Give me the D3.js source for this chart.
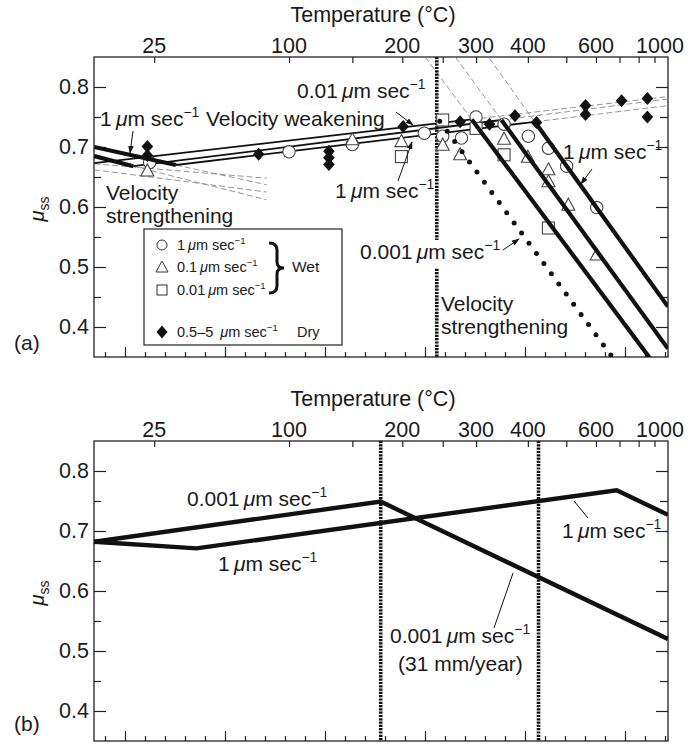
<!DOCTYPE html>
<html><head><meta charset="utf-8">
<script src="https://cdn.jsdelivr.net/npm/d3@7"></script>
<style>
body{margin:0;background:#fff}
text{font-family:"Liberation Sans",Arial,Helvetica,sans-serif;fill:#1a1a1a}
</style>
</head><body>
<svg id="c" width="700" height="746"></svg>
<script>
// ---------- axis ticks / labels ----------
const tempTicks  = [25,100,150,200,250,300,400,500,600,700,800,900];
const tempLabels = [25,100,200,300,400,600,1000];
const muMajor = [0.4,0.5,0.6,0.7,0.8];
const muMinor = [0.45,0.55,0.65,0.75];
const invMajor = [3.5,3.0,2.5,2.0,1.5,1.0];
const invMinor = [3.6,3.4,3.3,3.2,3.1,2.9,2.8,2.7,2.6,2.4,2.3,2.2,2.1,1.9,1.8,1.7,1.6,1.4,1.3,1.2,1.1,0.9,0.8];

// ---------- panel (a) data: [T (°C), mu_ss] ----------
const wet1   = [[23,0.674],[100,0.692],[150,0.704],[226,0.723],[250,0.718],[277,0.715],[300,0.750],[350,0.738],[401,0.718],[450,0.698],[501,0.668],[603,0.599]];
const wet01  = [[22,0.660],[150,0.712],[199,0.709],[250,0.703],[275,0.687],[350,0.713],[400,0.683],[450,0.662],[450,0.642],[506,0.603],[603,0.520]];
const wet001 = [[199,0.684],[250,0.745],[300,0.731],[350,0.687],[450,0.565]];
const dry    = [[22,0.701],[22,0.686],[80,0.688],[130,0.693],[130,0.682],[130,0.671],[201,0.734],[275,0.742],[323,0.738],[372,0.752],[420,0.741],[562,0.769],[562,0.754],[710,0.777],[853,0.781],[853,0.750]];

// model lines, panel (a)
const strong1  = [[0.5,0.700],[35,0.670]];
const strong01 = [[0.5,0.685],[16,0.668]];
const weak1    = [[35,0.670],[416,0.742]];
const weak01   = [[16,0.668],[345,0.745]];
const weak001  = [[0.5,0.673],[293,0.746]];
const hot1     = [[416,0.742],[1000,0.434]];
const hot01    = [[345,0.745],[1000,0.364]];
const hot001   = [[293,0.746],[1000,0.308]];
const hot0001  = [[246,0.743],[661,0.353]];
// extrapolated (thin dashed) lines
const extStrong = [
  [[35,0.670],[85,0.637]],
  [[16,0.668],[85,0.612]],
  [[0.5,0.672],[85,0.648]],
  [[0.5,0.662],[85,0.625]]
];
const extHot = [
  [[293,0.746],[227,0.85]],
  [[345,0.745],[268,0.85]],
  [[416,0.742],[321,0.85]]
];
const extWeak = [
  [[293,0.746],[1000,0.784]],
  [[345,0.745],[1000,0.780]],
  [[416,0.742],[1000,0.769]]
];
const vlineA = 242;

// ---------- panel (b) data ----------
const b0001 = [[0.5,0.682],[177,0.749],[1000,0.520]];
const b1    = [[0.5,0.682],[45,0.671],[687,0.768],[1000,0.727]];
const vlinesB = [177,425];

// ---------- setup ----------
const svg = d3.select("#c");
const L = 94, R = 668;
const inv = T => 1000/(T+273.15);
const x = d3.scaleLinear().domain([3.655,0.785]).range([L,R]);
const xT = T => x(inv(T));
const FONT = 21;

const defs = svg.append("defs");
defs.append("marker").attr("id","arr").attr("viewBox","0 0 10 10").attr("refX",9).attr("refY",5)
  .attr("markerWidth",8).attr("markerHeight",8).attr("markerUnits","userSpaceOnUse").attr("orient","auto")
  .append("path").attr("d","M0,1.5 L10,5 L0,8.5 Z").attr("fill","#111");

function umsec(g, xx, yy, prefix, size, anchor){
  const t = g.append("text").attr("x",xx).attr("y",yy).attr("font-size",size).attr("text-anchor",anchor||"start");
  t.append("tspan").text(prefix + "\u2009");
  t.append("tspan").attr("font-style","italic").text("\u03bc");
  t.append("tspan").text("m sec");
  t.append("tspan").attr("font-size",size*0.66).attr("dy",-size*0.42).text("\u22121");
  return t;
}
function label(g, xx, yy, s, size){
  return g.append("text").attr("x",xx).attr("y",yy).attr("font-size",size||FONT).text(s);
}

function panel(top, id){
  const bot = top+300;
  const y = d3.scaleLinear().domain([0.35,0.85]).range([bot,top]);
  const g = svg.append("g");
  defs.append("clipPath").attr("id",id).append("rect").attr("x",L).attr("y",top).attr("width",R-L).attr("height",300);
  const ax = g.append("g").attr("class","axes");
  const st = sel => { sel.selectAll("line,path").attr("stroke","#222").attr("stroke-width",1.2); sel.select(".domain").remove(); };
  ax.append("g").attr("transform",`translate(${L},0)`)
    .call(d3.axisLeft(y).tickValues(muMajor).tickSize(-12).tickPadding(5).tickFormat(d3.format(".1f"))).call(st)
    .selectAll("text").attr("font-size",FONT+0.5).attr("font-family",'"Liberation Sans",Arial,sans-serif').attr("fill","#1a1a1a");
  ax.append("g").attr("transform",`translate(${L},0)`).call(d3.axisLeft(y).tickValues(muMinor).tickSize(-7).tickFormat("")).call(st);
  ax.append("g").attr("transform",`translate(${R},0)`).call(d3.axisRight(y).tickValues(muMajor).tickSize(-12).tickFormat("")).call(st);
  ax.append("g").attr("transform",`translate(${R},0)`).call(d3.axisRight(y).tickValues(muMinor).tickSize(-8).tickFormat("")).call(st);
  ax.append("g").attr("transform",`translate(0,${bot})`).call(d3.axisBottom(x).tickValues(invMajor).tickSize(-10).tickFormat("")).call(st);
  ax.append("g").attr("transform",`translate(0,${bot})`).call(d3.axisBottom(x).tickValues(invMinor).tickSize(-5).tickFormat("")).call(st);
  ax.append("g").attr("transform",`translate(0,${top})`).call(d3.axisTop(x).tickValues(tempTicks.map(inv)).tickSize(-6).tickFormat("")).call(st);
  ax.append("rect").attr("x",L).attr("y",top).attr("width",R-L).attr("height",300).attr("fill","none").attr("stroke","#222").attr("stroke-width",1.3);
  tempLabels.forEach(T => {
    g.append("text").attr("x",Math.min(xT(T),660)).attr("y",top-4).attr("text-anchor","middle").attr("font-size",FONT+0.5).text(T);
  });
  g.append("text").attr("x",373).attr("y",top-35).attr("text-anchor","middle").attr("font-size",FONT+0.5).text("Temperature (\u00b0C)");
  const yl = g.append("text").attr("transform",`translate(44,${top+152}) rotate(-90)`).attr("text-anchor","middle").attr("font-size",20);
  yl.append("tspan").attr("font-style","italic").text("\u03bc");
  yl.append("tspan").attr("font-size",14).attr("dy",5).text("ss");
  const plot = g.append("g").attr("clip-path",`url(#${id})`);
  const line = d3.line().x(d=>xT(d[0])).y(d=>y(d[1]));
  return {g, plot, y, line, top, bot};
}

// ================= PANEL (a) =================
const A = panel(57,"clipA");
{
  const {g, plot, y, line} = A;
  const dashed = arr => arr.forEach(d => plot.append("path").attr("d",line(d)).attr("fill","none")
      .attr("stroke","#8a8a8a").attr("stroke-width",0.9).attr("stroke-dasharray","6,3"));
  dashed(extStrong); dashed(extHot); dashed(extWeak);

  // vertical dotted line (split around label)
  [[0.85,0.545],[0.497,0.35]].forEach(r => plot.append("line").attr("x1",xT(vlineA)).attr("x2",xT(vlineA))
      .attr("y1",y(r[0])).attr("y2",y(r[1])).attr("stroke","#111").attr("stroke-width",3.6).attr("stroke-dasharray","2.2,1.1"));

  [weak1,weak01,weak001].forEach(d => plot.append("path").attr("d",line(d)).attr("fill","none").attr("stroke","#111").attr("stroke-width",1.8));

  // markers
  const mk = plot.append("g");
  wet1.forEach(d => mk.append("circle").attr("cx",xT(d[0])).attr("cy",y(d[1])).attr("r",6.2)
      .attr("fill","#fff").attr("stroke","#444").attr("stroke-width",1.1));
  wet01.forEach(d => { const cx=xT(d[0]), cy=y(d[1]);
      mk.append("path").attr("d",`M${cx},${cy-7} L${cx+6.5},${cy+5} L${cx-6.5},${cy+5} Z`)
      .attr("fill","#fff").attr("stroke","#444").attr("stroke-width",1.1); });
  wet001.forEach(d => { const cx=xT(d[0]), cy=y(d[1]);
      mk.append("rect").attr("x",cx-6).attr("y",cy-6).attr("width",12).attr("height",12)
      .attr("fill","#fff").attr("stroke","#444").attr("stroke-width",1.1); });
  dry.forEach(d => { const cx=xT(d[0]), cy=y(d[1]);
      mk.append("path").attr("d",`M${cx},${cy-6.5} L${cx+5.8},${cy} L${cx},${cy+6.5} L${cx-5.8},${cy} Z`).attr("fill","#111"); });

  [strong1,strong01,hot1,hot01,hot001].forEach(d => plot.append("path").attr("d",line(d)).attr("fill","none")
      .attr("stroke","#111").attr("stroke-width",4.2));
  plot.append("path").attr("d",line(hot0001)).attr("fill","none").attr("stroke","#111").attr("stroke-width",5)
      .attr("stroke-linecap","round").attr("stroke-dasharray","0,12.6");

  // annotations
  umsec(g,100,126,"1",FONT);
  label(g,206,126,"Velocity weakening");
  umsec(g,297,98,"0.01",FONT);
  umsec(g,335,198,"1",FONT);
  label(g,106,200,"Velocity"); label(g,106,223,"strengthening");
  umsec(g,360,259,"0.001",FONT);
  label(g,441,311,"Velocity"); label(g,441,334,"strengthening");
  umsec(g,563,159,"1",FONT);
  const arrow = (x1,y1,x2,y2) => g.append("line").attr("x1",x1).attr("y1",y1).attr("x2",x2).attr("y2",y2)
      .attr("stroke","#111").attr("stroke-width",1).attr("marker-end","url(#arr)");
  arrow(133,131,130,153);
  arrow(396,112,413,125);
  arrow(398,181,412,142);
  arrow(503,250,519,239);
  arrow(592,169,581,184);

  // legend
  const lg = g.append("g");
  lg.append("rect").attr("x",144).attr("y",229).attr("width",198).attr("height",116).attr("fill","#fff").attr("stroke","#222").attr("stroke-width",1.2);
  const LF = 14.5;
  lg.append("circle").attr("cx",162).attr("cy",245).attr("r",5).attr("fill","#fff").attr("stroke","#333").attr("stroke-width",1);
  umsec(lg,177,250,"1",LF);
  lg.append("path").attr("d","M162,261 L168,272 L156,272 Z").attr("fill","#fff").attr("stroke","#333").attr("stroke-width",1);
  umsec(lg,177,272,"0.1",LF);
  lg.append("rect").attr("x",157).attr("y",285).attr("width",10).attr("height",10).attr("fill","#fff").attr("stroke","#333").attr("stroke-width",1);
  umsec(lg,177,295,"0.01",LF);
  lg.append("path").attr("d","M162,325.5 L167.5,332 L162,338.5 L156.5,332 Z").attr("fill","#111");
  umsec(lg,177,337,"0.5\u20135 ",LF);
  label(lg,297,337,"Dry",LF);
  lg.append("path").attr("d","M269,243 Q277,243 277,250 L277,262 Q277,268 284,268 Q277,268 277,274 L277,286 Q277,293 269,293")
    .attr("fill","none").attr("stroke","#111").attr("stroke-width",3);
  label(lg,292,272,"Wet",LF+1);

  g.append("text").attr("x",14).attr("y",350).attr("font-size",FONT).text("(a)");
}

// ================= PANEL (b) =================
const B = panel(441,"clipB");
{
  const {g, plot, y, line, top, bot} = B;
  vlinesB.forEach(T => plot.append("line").attr("x1",xT(T)).attr("x2",xT(T)).attr("y1",top).attr("y2",bot)
      .attr("stroke","#111").attr("stroke-width",3.6).attr("stroke-dasharray","2.2,1.1"));
  [b0001,b1].forEach(d => plot.append("path").attr("d",line(d)).attr("fill","none").attr("stroke","#111")
      .attr("stroke-width",4.4).attr("stroke-linejoin","miter"));
  umsec(g,187,506,"0.001",FONT);
  umsec(g,218,571,"1",FONT);
  umsec(g,562,538,"1",FONT);
  umsec(g,390,643,"0.001",FONT);
  label(g,398,671,"(31 mm/year)");
  const lead = (x1,y1,x2,y2) => g.append("line").attr("x1",x1).attr("y1",y1).attr("x2",x2).attr("y2",y2).attr("stroke","#111").attr("stroke-width",1);
  lead(588,518,574,501);
  lead(494,628,513,573);
  g.append("text").attr("x",14).attr("y",731).attr("font-size",FONT).text("(b)");
}
</script>
</body></html>
